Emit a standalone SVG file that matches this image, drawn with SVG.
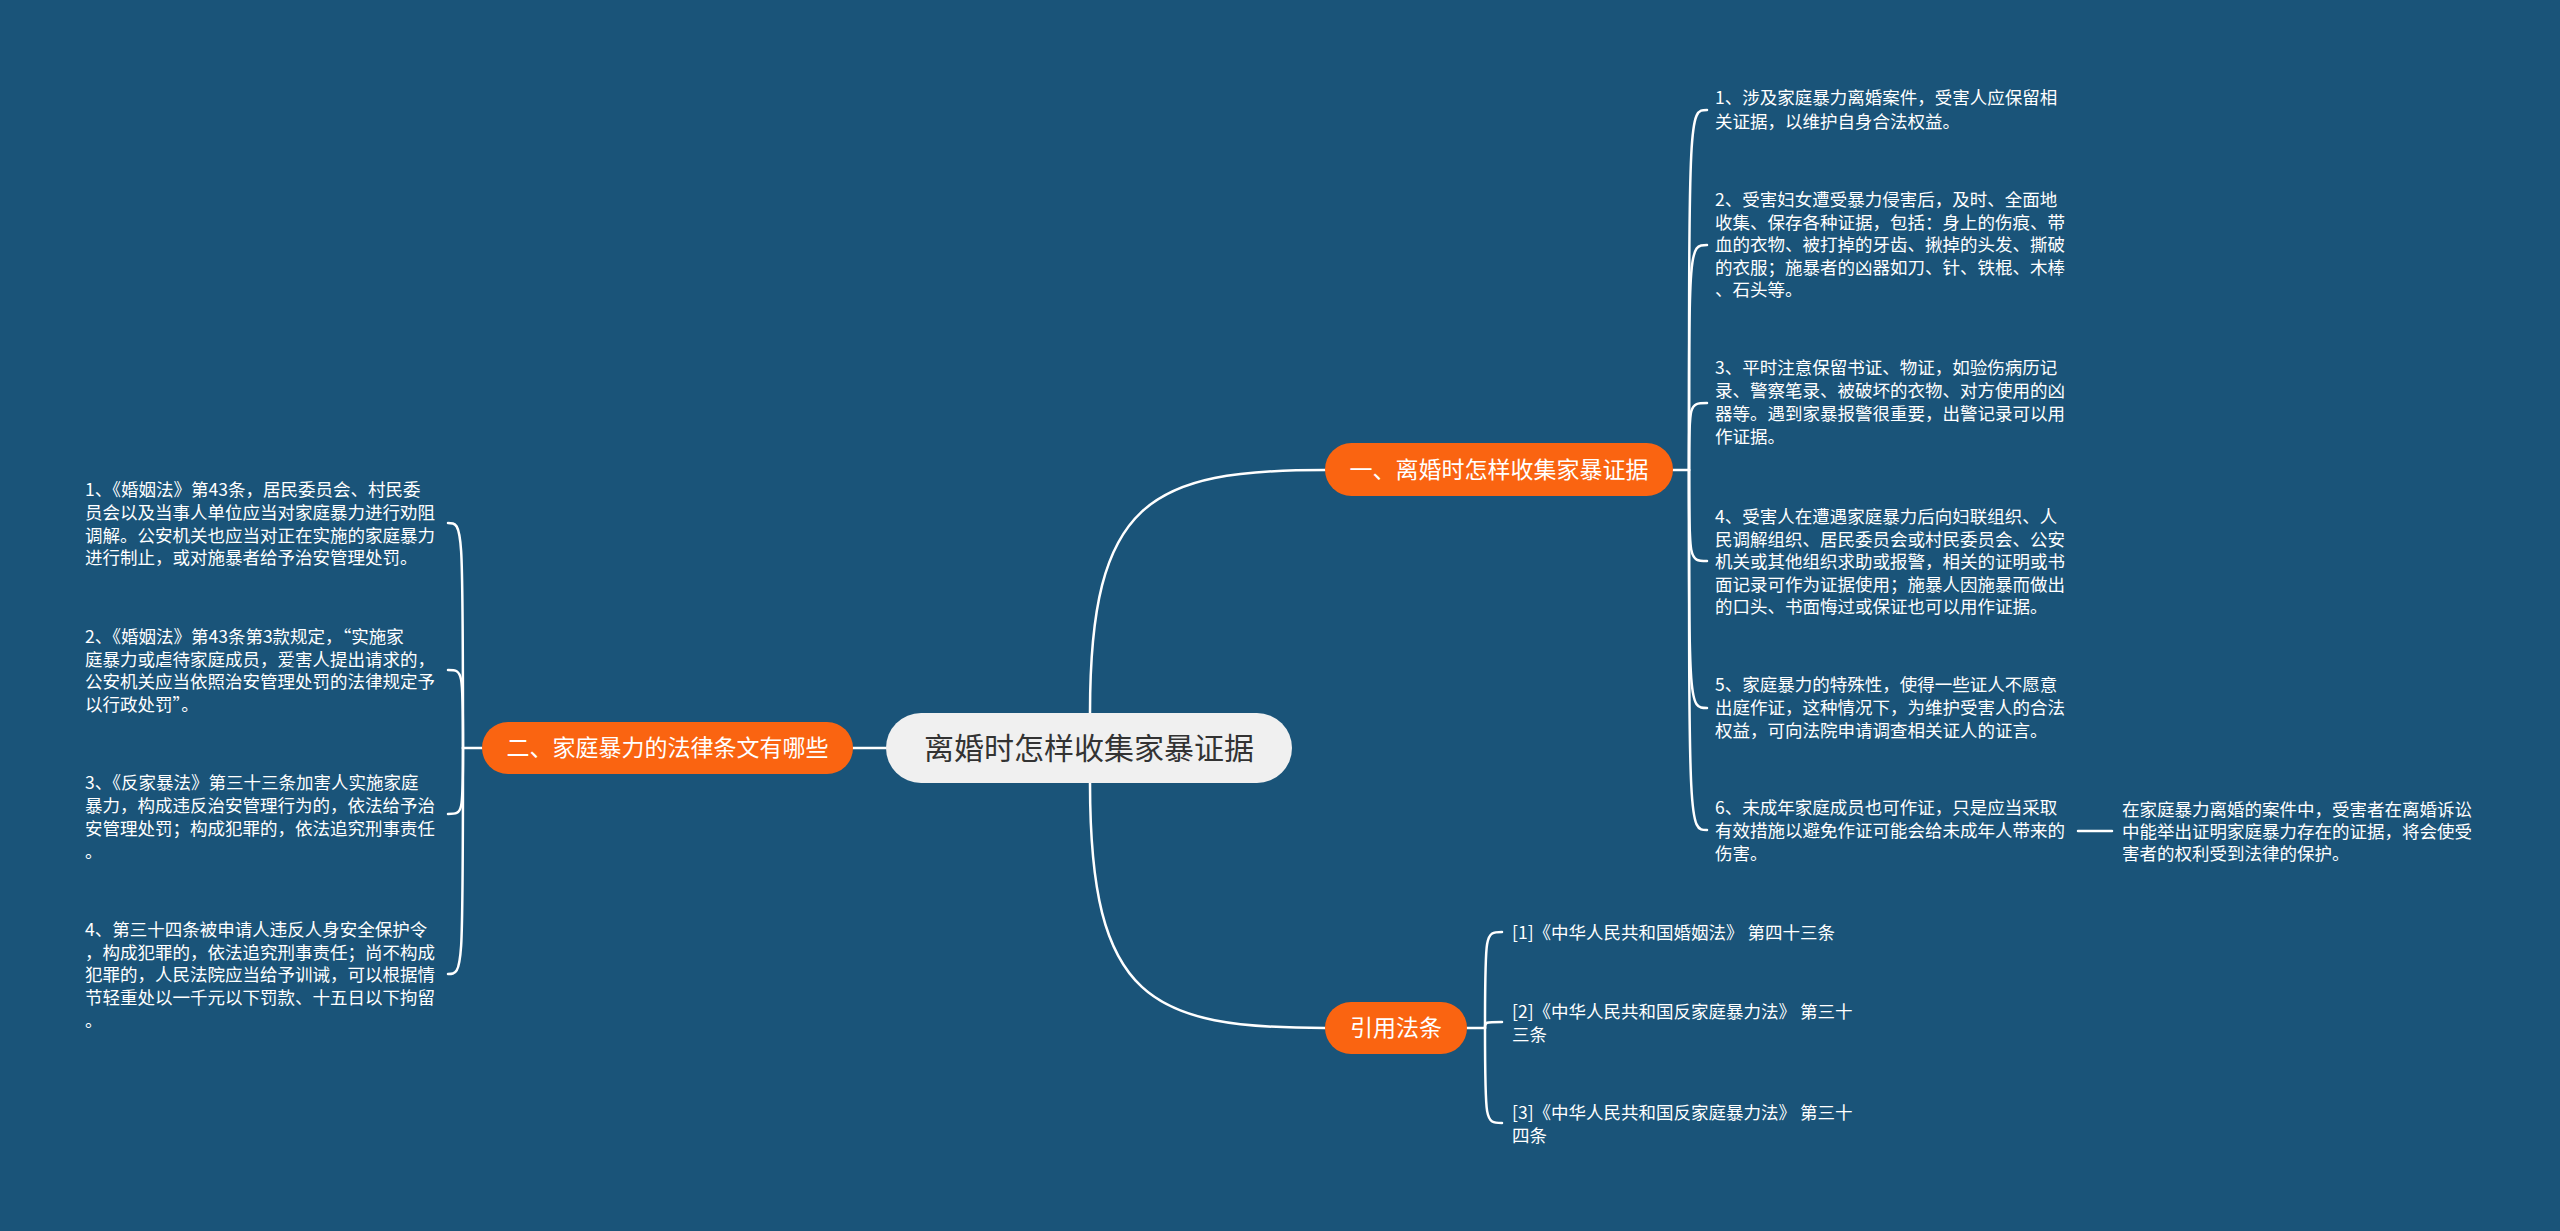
<svg xmlns="http://www.w3.org/2000/svg" width="2560" height="1231" viewBox="0 0 2560 1231">
<style>
.bg{fill:#1a5479}
.root rect{fill:#f0f0f0}
.root text{fill:#333333;font-size:30px}
.main rect{fill:#fa6411}
.main text{fill:#ffffff;font-size:23px}
.leaf{fill:#ffffff;font-size:17.5px}
text{font-family:"Noto Sans CJK SC","Noto Sans",sans-serif}
.conn path{fill:none;stroke:#ffffff;stroke-width:2.5;stroke-linecap:round}
</style>
<rect class="bg" x="0" y="0" width="2560" height="1231"/>
<g class="conn" id="connectors">
<path d="M1090 713 C1090 500 1150 470 1325 470"/>
<path d="M1090 783 C1090 1000 1150 1028 1325 1028"/>
<path d="M853 748 L886 748"/>
<path d="M1673 470 L1689 470"/>
<path d="M1689 470 C1689 110 1689 110 1707 110"/>
<path d="M1689 470 C1689 245 1689 245 1707 245"/>
<path d="M1689 470 C1689 403 1689 403 1707 403"/>
<path d="M1689 470 C1689 561 1689 561 1707 561"/>
<path d="M1689 470 C1689 708 1689 708 1707 708"/>
<path d="M1689 470 C1689 830 1689 830 1707 830"/>
<path d="M2078 831 L2112 831"/>
<path d="M482 748 L463 748"/>
<path d="M463 748 C463 523 463 523 448 523"/>
<path d="M463 748 C463 670 463 670 448 670"/>
<path d="M463 748 C463 814 463 814 448 814"/>
<path d="M463 748 C463 974 463 974 448 974"/>
<path d="M1467 1028 L1485 1028"/>
<path d="M1485 1028 C1485 932 1485 932 1502 932"/>
<path d="M1485 1028 C1485 1022 1485 1022 1502 1022"/>
<path d="M1485 1028 C1485 1123 1485 1123 1502 1123"/>
</g>
<g class="root" id="node-root">
<rect x="886" y="713" width="406" height="70" rx="35"/>
<text x="1089" y="759" text-anchor="middle">离婚时怎样收集家暴证据</text>
</g>
<g class="main" id="node-b1">
<rect x="1325" y="443" width="348" height="53" rx="26.5"/>
<text x="1499" y="478" text-anchor="middle">一、离婚时怎样收集家暴证据</text>
</g>
<g class="main" id="node-b2">
<rect x="482" y="722" width="371" height="52" rx="26"/>
<text x="667.5" y="756" text-anchor="middle">二、家庭暴力的法律条文有哪些</text>
</g>
<g class="main" id="node-b3">
<rect x="1325" y="1002" width="142" height="52" rx="26"/>
<text x="1396" y="1036" text-anchor="middle">引用法条</text>
</g>
<g id="node-r1"><text class="leaf"><tspan x="1715" y="104">1、涉及家庭暴力离婚案件，受害人应保留相</tspan><tspan x="1715" y="128">关证据，以维护自身合法权益。</tspan></text></g>
<g id="node-r2"><text class="leaf"><tspan x="1715" y="206">2、受害妇女遭受暴力侵害后，及时、全面地</tspan><tspan x="1715" y="229">收集、保存各种证据，包括：身上的伤痕、带</tspan><tspan x="1715" y="251">血的衣物、被打掉的牙齿、揪掉的头发、撕破</tspan><tspan x="1715" y="274">的衣服；施暴者的凶器如刀、针、铁棍、木棒</tspan><tspan x="1715" y="296">、石头等。</tspan></text></g>
<g id="node-r3"><text class="leaf"><tspan x="1715" y="374">3、平时注意保留书证、物证，如验伤病历记</tspan><tspan x="1715" y="397">录、警察笔录、被破坏的衣物、对方使用的凶</tspan><tspan x="1715" y="420">器等。遇到家暴报警很重要，出警记录可以用</tspan><tspan x="1715" y="443">作证据。</tspan></text></g>
<g id="node-r4"><text class="leaf"><tspan x="1715" y="523">4、受害人在遭遇家庭暴力后向妇联组织、人</tspan><tspan x="1715" y="546">民调解组织、居民委员会或村民委员会、公安</tspan><tspan x="1715" y="568">机关或其他组织求助或报警，相关的证明或书</tspan><tspan x="1715" y="591">面记录可作为证据使用；施暴人因施暴而做出</tspan><tspan x="1715" y="613">的口头、书面悔过或保证也可以用作证据。</tspan></text></g>
<g id="node-r5"><text class="leaf"><tspan x="1715" y="691">5、家庭暴力的特殊性，使得一些证人不愿意</tspan><tspan x="1715" y="714">出庭作证，这种情况下，为维护受害人的合法</tspan><tspan x="1715" y="737">权益，可向法院申请调查相关证人的证言。</tspan></text></g>
<g id="node-r6"><text class="leaf"><tspan x="1715" y="814">6、未成年家庭成员也可作证，只是应当采取</tspan><tspan x="1715" y="837">有效措施以避免作证可能会给未成年人带来的</tspan><tspan x="1715" y="860">伤害。</tspan></text></g>
<g id="node-r6a"><text class="leaf"><tspan x="2122" y="816">在家庭暴力离婚的案件中，受害者在离婚诉讼</tspan><tspan x="2122" y="838">中能举出证明家庭暴力存在的证据，将会使受</tspan><tspan x="2122" y="860">害者的权利受到法律的保护。</tspan></text></g>
<g id="node-l1"><text class="leaf"><tspan x="85" y="496">1、《婚姻法》第43条，居民委员会、村民委</tspan><tspan x="85" y="519">员会以及当事人单位应当对家庭暴力进行劝阻</tspan><tspan x="85" y="542">调解。公安机关也应当对正在实施的家庭暴力</tspan><tspan x="85" y="564">进行制止，或对施暴者给予治安管理处罚。</tspan></text></g>
<g id="node-l2"><text class="leaf"><tspan x="85" y="643">2、《婚姻法》第43条第3款规定，“实施家</tspan><tspan x="85" y="666">庭暴力或虐待家庭成员，爱害人提出请求的，</tspan><tspan x="85" y="688">公安机关应当依照治安管理处罚的法律规定予</tspan><tspan x="85" y="711">以行政处罚”。</tspan></text></g>
<g id="node-l3"><text class="leaf"><tspan x="85" y="789">3、《反家暴法》第三十三条加害人实施家庭</tspan><tspan x="85" y="812">暴力，构成违反治安管理行为的，依法给予治</tspan><tspan x="85" y="835">安管理处罚；构成犯罪的，依法追究刑事责任</tspan><tspan x="85" y="858">。</tspan></text></g>
<g id="node-l4"><text class="leaf"><tspan x="85" y="936">4、第三十四条被申请人违反人身安全保护令</tspan><tspan x="85" y="959">，构成犯罪的，依法追究刑事责任；尚不构成</tspan><tspan x="85" y="981">犯罪的，人民法院应当给予训诫，可以根据情</tspan><tspan x="85" y="1004">节轻重处以一千元以下罚款、十五日以下拘留</tspan><tspan x="85" y="1027">。</tspan></text></g>
<g id="node-ref1"><text class="leaf"><tspan x="1512" y="939">[1]《中华人民共和国婚姻法》 第四十三条</tspan></text></g>
<g id="node-ref2"><text class="leaf"><tspan x="1512" y="1018">[2]《中华人民共和国反家庭暴力法》 第三十</tspan><tspan x="1512" y="1041">三条</tspan></text></g>
<g id="node-ref3"><text class="leaf"><tspan x="1512" y="1119">[3]《中华人民共和国反家庭暴力法》 第三十</tspan><tspan x="1512" y="1142">四条</tspan></text></g>
</svg>
